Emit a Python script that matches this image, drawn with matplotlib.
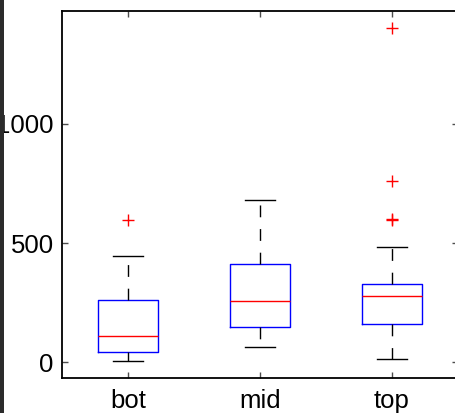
import matplotlib
matplotlib.use("Agg")
import matplotlib.pyplot as plt
from matplotlib.patches import Rectangle

plt.rcParams['font.family'] = ['Liberation Sans', 'DejaVu Sans']

labels = ['bot', 'mid', 'top']
lower = [5, 62, 14]
q1 = [43, 146, 159]
med = [111, 256, 280]
q3 = [262, 412, 328]
upper = [448, 682, 484]
outliers = [[597], [], [595, 600, 760, 1403]]
yticks = [0, 500, 1000]

stats = []
for i in range(len(labels)):
    stats.append(dict(label=labels[i], whislo=lower[i], q1=q1[i], med=med[i],
                      q3=q3[i], whishi=upper[i], fliers=outliers[i]))

fig = plt.figure(figsize=(4.56, 4.13), dpi=100)
ax = fig.add_axes([62/456, 35/413, 396/456, 367/413])

ax.bxp(stats, positions=[1, 2, 3], widths=0.45, showfliers=True,
       boxprops=dict(color='blue', linewidth=1),
       medianprops=dict(color='red', linewidth=1),
       whiskerprops=dict(color='black', linewidth=1, linestyle=(0, (8.5, 8.5))),
       capprops=dict(color='black', linewidth=1),
       capwidths=0.22,
       flierprops=dict(marker='+', markeredgecolor='red', markersize=9,
                       markeredgewidth=1, linestyle='none'))

ax.set_xlim(0.5, 3.5)
ax.set_ylim(-66, 1474)
ax.set_yticks(yticks)
ax.set_xticks([1, 2, 3])
ax.set_xticklabels(labels)
ax.tick_params(direction='in', length=4, labelsize=18.5, top=True, right=True,
               width=1, color='0.3')
ax.tick_params(axis='x', pad=8)
ax.tick_params(axis='y', pad=6)
for s in ax.spines.values():
    s.set_linewidth(1.3)
    s.set_color('black')

# dark strip at the left edge of the screenshot
fig.patches.append(Rectangle((0, 0), 4/456, 1, transform=fig.transFigure,
                             facecolor='#2b2b2b', edgecolor='none', zorder=5))

fig.savefig('out.png', dpi=100)
